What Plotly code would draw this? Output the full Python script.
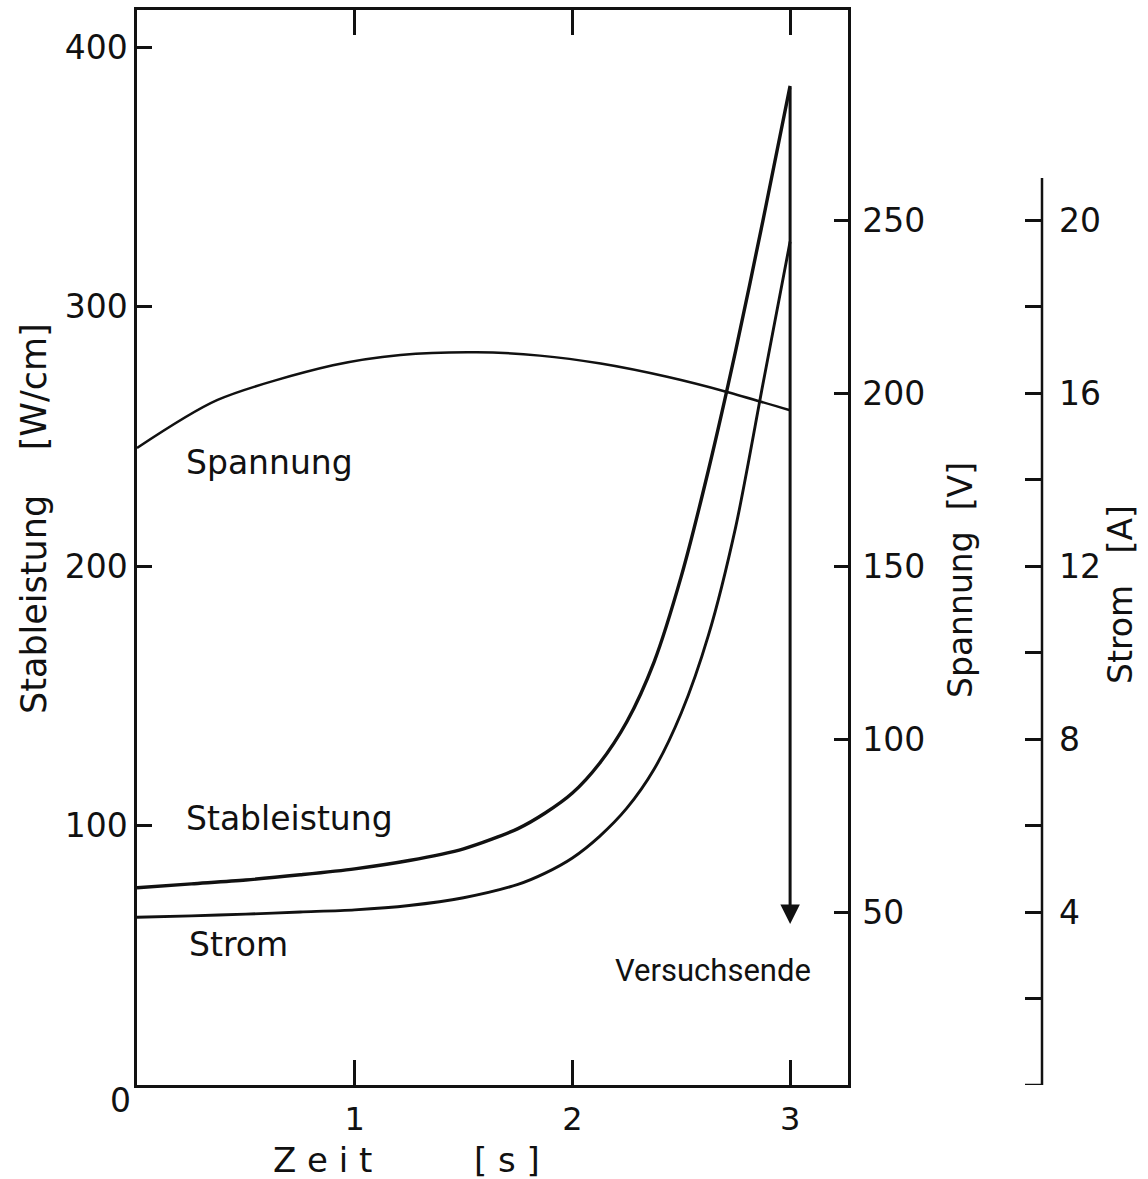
import plotly.graph_objects as go

# --- data -------------------------------------------------------------
zeit = [0.0, 0.25, 0.5, 0.75, 1.0, 1.25, 1.5, 1.75, 1.875, 2.0,
        2.125, 2.25, 2.375, 2.5, 2.625, 2.75, 2.875, 3.0]
stableistung = [76, 77.5, 79, 81, 83.3, 86.5, 91, 98.8, 104.8, 112.5,
                124, 140, 163, 196, 237, 283, 333, 385]                  # W/cm
strom = [3.88, 3.91, 3.95, 4.0, 4.05, 4.15, 4.33, 4.64, 4.9, 5.25,
         5.75, 6.4, 7.3, 8.6, 10.4, 12.9, 16.2, 19.5]                    # A

zeit_u = [0.0, 0.37, 0.9, 1.21, 1.56, 1.85, 2.13, 2.44, 2.71, 3.0]
spannung = [184.1, 198, 208, 211, 211.8, 210.8, 208.5, 204.6, 200.3, 195]  # V

x_ticks = [1, 2, 3]
p_ticks = [100, 200, 300, 400]
u_ticks = [50, 100, 150, 200, 250]
i_ticks = [2, 4, 6, 8, 10, 12, 14, 16, 18, 20]
i_labels = ["", "4", "", "8", "", "12", "", "16", "", "20"]

ende_zeit = 3.0
ende_von = 385
ende_bis = 62

# --- geometry ---------------------------------------------------------
W, H = 1148, 1179
L, R, T, B = 137, 0, 10, 94
PW, PH = W - L - R, H - T - B
X_RIGHT = 848          # right frame of the plot area (px)
STROM_X = 1042         # position of the current axis (px)
STROM_TOP = 178        # top end of the current axis line (px)

px_per_s = 217.7
px_per_P = 2.595
px_per_U = 3.46
px_per_I = 43.25


def fx(px):
    return (px - L) / PW


def fy(py):
    return (H - B - py) / PH


FONT = "DejaVu Sans"
INK = "#111111"

fig = go.Figure()
fig.add_trace(go.Scatter(x=zeit, y=stableistung, mode="lines", yaxis="y",
                         line=dict(color=INK, width=3.4, shape="spline", smoothing=0.8)))
fig.add_trace(go.Scatter(x=zeit_u, y=spannung, mode="lines", yaxis="y2",
                         line=dict(color=INK, width=2.5, shape="spline", smoothing=0.8)))
fig.add_trace(go.Scatter(x=zeit, y=strom, mode="lines", yaxis="y3",
                         line=dict(color=INK, width=2.9, shape="spline", smoothing=0.8)))

x_dom = fx(X_RIGHT)
fig.update_layout(
    width=W, height=H,
    margin=dict(l=L, r=R, t=T, b=B, pad=0),
    paper_bgcolor="white", plot_bgcolor="white",
    showlegend=False,
    font=dict(family=FONT, size=32, color=INK),
    xaxis=dict(domain=[0, x_dom], range=[0, PW * x_dom / px_per_s],
               tickvals=x_ticks, ticks="inside", ticklen=25, tickwidth=2.5,
               tickcolor=INK, showline=True, linewidth=2.5, linecolor=INK,
               mirror="ticks", showgrid=False, zeroline=False,
               ticklabelstandoff=4, tickfont=dict(size=32)),
    yaxis=dict(range=[0, PH / px_per_P], tickvals=p_ticks, ticks="inside",
               ticklen=15, tickwidth=2.5, tickcolor=INK, showline=True,
               linewidth=2.5, linecolor=INK, showgrid=False, zeroline=False,
               ticklabelstandoff=0, tickfont=dict(size=33)),
    yaxis2=dict(overlaying="y", anchor="x", side="right",
                range=[0, PH / px_per_U], tickvals=u_ticks, ticks="inside",
                ticklen=14, tickwidth=2.5, tickcolor=INK, showline=True,
                linewidth=2.5, linecolor=INK, showgrid=False, zeroline=False,
                ticklabelstandoff=5, tickfont=dict(size=33)),
    yaxis3=dict(overlaying="y", anchor="free", position=fx(STROM_X), side="right",
                range=[0, PH / px_per_I], tickvals=i_ticks, ticktext=i_labels,
                ticks="inside", ticklen=17, tickwidth=2.5, tickcolor=INK,
                showline=False, showgrid=False, zeroline=False,
                ticklabelstandoff=16, tickfont=dict(size=33)),
)

# axis line of the current scale (shorter than the plot height)
fig.add_shape(type="line", xref="paper", yref="y3",
              x0=fx(STROM_X), x1=fx(STROM_X), y0=0, y1=(H - B - STROM_TOP) / px_per_I,
              line=dict(color=INK, width=2.5))
fig.add_shape(type="line", xref="paper", yref="y3",
              x0=fx(STROM_X - 17), x1=fx(STROM_X), y0=0, y1=0,
              line=dict(color=INK, width=2.5))

# end-of-test marker
fig.add_annotation(x=ende_zeit, y=ende_bis, ax=ende_zeit, ay=ende_von,
                   xref="x", yref="y", axref="x", ayref="y",
                   showarrow=True, arrowhead=2, arrowsize=1.3, arrowwidth=3,
                   arrowcolor=INK, text="")


def label(text, px, py, size=32, angle=0, xanchor="left", family=FONT):
    fig.add_annotation(text=text, x=fx(px), y=fy(py), xref="paper", yref="paper",
                       showarrow=False, xanchor=xanchor, yanchor="middle",
                       textangle=angle, font=dict(family=family, size=size, color=INK))


label("Spannung", 184, 462, size=33)
label("Stableistung", 184, 818, size=33)
label("Strom", 187, 945, size=33)
label("Versuchsende", 713, 970, size=31, xanchor="center", family="Roboto")
label("0", 120, 1100, size=33, xanchor="center")

label("Stableistung    [W/cm]", 34, 519, size=35, angle=-90, xanchor="center")
label("Spannung  [V]", 960, 580, size=33, angle=-90, xanchor="center")
label("Strom   [A]", 1120, 595, size=33, angle=-90, xanchor="center")
label("Z e i t", 322, 1160, size=34, xanchor="center")
label("[ s ]", 507, 1160, size=34, xanchor="center")

fig.write_html("out.html")
